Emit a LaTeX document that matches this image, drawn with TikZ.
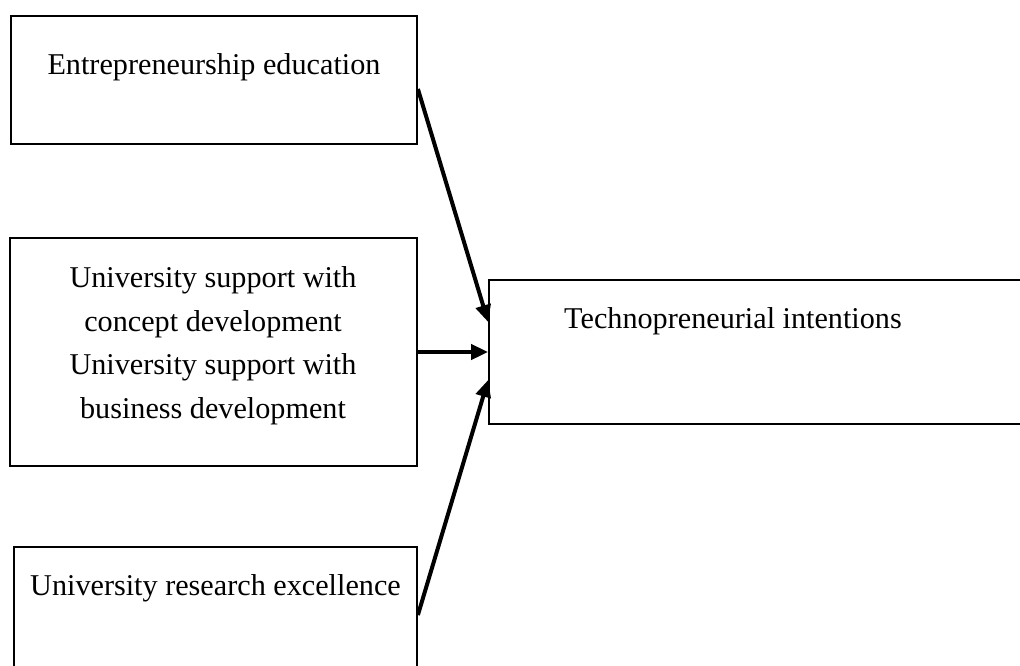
\documentclass[tikz,border=0pt]{standalone}
\usepackage{fontspec}
\setmainfont{Liberation Serif}
\usetikzlibrary{arrows.meta}
\begin{document}
\begin{tikzpicture}[x=1pt,y=-1pt,
  boxnode/.style={draw=black,line width=1.8pt,inner sep=0pt,fill=none},
  lbl/.style={anchor=base,inner sep=0pt,font=\fontsize{30.2}{36}\selectfont},
  conn/.style={line width=4pt,-{Triangle[length=17pt,width=15pt]}}]
\useasboundingbox (0,0) rectangle (1020,665);
\clip (0,0) rectangle (1020,665);
\fill[white] (0,0) rectangle (1020,665);
\node[boxnode,minimum width=406pt,minimum height=128pt] (b1) at (214,80) {};
\node[boxnode,minimum width=407pt,minimum height=228pt] (b2) at (213.5,352) {};
\node[boxnode,minimum width=403pt,minimum height=130pt] (b3) at (215.5,612) {};
\node[boxnode,minimum width=541pt,minimum height=144pt] (b4) at (759.5,352) {};
\node[lbl] (t1) at (214,74) {Entrepreneurship education};
\node[lbl] (t2a) at (213,287) {University support with};
\node[lbl] (t2b) at (213,331) {concept development};
\node[lbl] (t2c) at (213,374) {University support with};
\node[lbl] (t2d) at (213,418) {business development};
\node[lbl] (t3) at (215.5,595) {University research excellence};
\node[lbl] (t4) at (733,328) {Technopreneurial intentions};
\draw[conn] ([yshift=-9pt]b1.east) -- ([yshift=30pt]b4.west);
\draw[conn] (b2.east) -- (b4.west);
\draw[conn] ([yshift=-3pt]b3.east) -- ([yshift=-28pt]b4.west);
\end{tikzpicture}
\end{document}
